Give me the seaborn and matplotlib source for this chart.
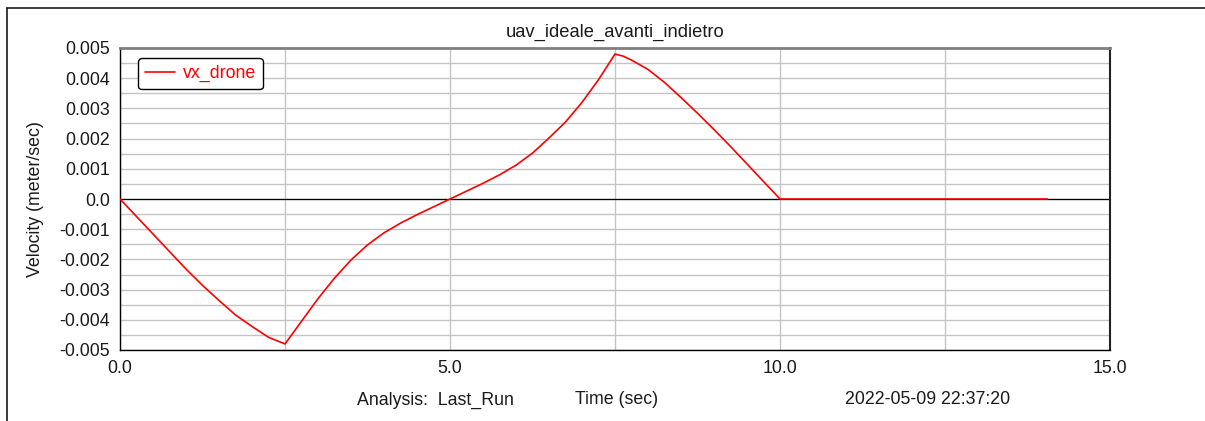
import matplotlib
matplotlib.use("Agg")
import matplotlib.pyplot as plt
from matplotlib.lines import Line2D
from matplotlib.ticker import MultipleLocator, FormatStrFormatter
import seaborn as sns
import pandas as pd

# Simulated drone velocity along x (time in s, velocity in m/s)
time_s = [0.0, 0.25, 0.5, 0.75, 1.0, 1.25, 1.5, 1.75, 2.0, 2.25, 2.5,
          2.75, 3.0, 3.25, 3.5, 3.75, 4.0, 4.25, 4.5, 4.75, 5.0,
          5.25, 5.5, 5.75, 6.0, 6.25, 6.5, 6.75, 7.0, 7.25, 7.5,
          7.625, 7.75, 8.0, 8.25, 8.5, 8.75, 9.0, 9.25, 9.5, 9.75, 10.0,
          14.05]
vx_drone = [0.0, -0.00058, -0.00116, -0.00174, -0.00232, -0.00286, -0.00336, -0.00384, -0.00422, -0.00458, -0.00480,
            -0.00405, -0.00330, -0.00262, -0.00202, -0.00152, -0.00112, -0.00080, -0.00052, -0.00026, 0.0,
            0.00026, 0.00052, 0.00080, 0.00112, 0.00152, 0.00202, 0.00255, 0.00320, 0.00395, 0.00480,
            0.00473, 0.00460, 0.00429, 0.00386, 0.00336, 0.00284, 0.00230, 0.00174, 0.00116, 0.00058, 0.0,
            0.0]

title = "uav_ideale_avanti_indietro"
series_name = "vx_drone"
y_label = "Velocity (meter/sec)"
x_label = "Time (sec)"
analysis_text = "Analysis:  Last_Run"
stamp_text = "2022-05-09 22:37:20"

df = pd.DataFrame({"time": time_s, "vx": vx_drone, "series": series_name})

sns.set_style("white")
plt.rcParams["font.family"] = ["Liberation Sans", "DejaVu Sans"]

FS = 12.8
W, H = 1205, 421
fig = plt.figure(figsize=(W / 100, H / 100), dpi=100)
ax = fig.add_axes([120 / W, 1 - 350 / H, 990 / W, 302 / H])

# grid and reference line
ax.set_axisbelow(True)
ax.xaxis.set_major_locator(MultipleLocator(5))
ax.xaxis.set_minor_locator(MultipleLocator(2.5))
ax.yaxis.set_major_locator(MultipleLocator(0.001))
ax.yaxis.set_minor_locator(MultipleLocator(0.0005))
ax.grid(True, which="both", color="#c4c4c4", linewidth=1.0)
ax.axhline(0, color="black", linewidth=0.9, zorder=1.5)

sns.lineplot(data=df, x="time", y="vx", hue="series", palette=["#ff0000"],
             linewidth=1.2, ax=ax, zorder=3)

ax.set_xlim(0, 15)
ax.set_ylim(-0.005, 0.005)
ax.xaxis.set_major_formatter(FormatStrFormatter("%.1f"))

def ylab(v, pos):
    if abs(v) < 1e-12:
        return "0.0"
    return f"{v:.3f}"

ax.yaxis.set_major_formatter(plt.FuncFormatter(ylab))
ax.tick_params(axis="both", which="major", direction="out", length=5, width=1,
               color="black", labelsize=FS, labelcolor="#1a1a1a", pad=2)
ax.tick_params(axis="both", which="minor", direction="out", length=4, width=1,
               color="black")
ax.tick_params(axis="x", which="minor", color="#c4c4c4", length=4)

for side in ["left", "bottom"]:
    ax.spines[side].set_color("black")
    ax.spines[side].set_linewidth(1.0)
ax.spines["top"].set_color("#808080")
ax.spines["top"].set_linewidth(2.0)
ax.spines["right"].set_color("#222222")
ax.spines["right"].set_linewidth(1.5)

ax.set_xlabel("")
ax.set_ylabel(y_label, fontsize=FS, color="#1a1a1a", labelpad=11)
ax.set_title(title, fontsize=13.2, color="#1a1a1a", pad=8)

leg = ax.legend(loc="upper left", bbox_to_anchor=(18 / 990, 1 - 10 / 302),
                fontsize=FS, frameon=True, fancybox=True, framealpha=1,
                edgecolor="black", handlelength=1.7, handletextpad=0.4,
                borderpad=0.4, borderaxespad=0)
leg.get_frame().set_linewidth(1.0)
for t in leg.get_texts():
    t.set_color("#ff0000")
leg.set_title(None)

# footer texts
fig.text(357 / W, 1 - 400 / H, analysis_text, fontsize=FS, color="#1a1a1a",
         ha="left", va="center")
fig.text(575 / W, 1 - 400 / H, x_label, fontsize=FS, color="#1a1a1a",
         ha="left", va="center")
fig.text(845 / W, 1 - 400 / H, stamp_text, fontsize=FS, color="#1a1a1a",
         ha="left", va="center")

# outer window frame
fig.add_artist(Line2D([7 / W, 1.0], [1 - 8 / H, 1 - 8 / H], color="#1a1a1a",
                      linewidth=1.2, transform=fig.transFigure))
fig.add_artist(Line2D([7 / W, 7 / W], [0, 1 - 8 / H], color="#1a1a1a",
                      linewidth=1.2, transform=fig.transFigure))

fig.savefig("out.png", dpi=100)
